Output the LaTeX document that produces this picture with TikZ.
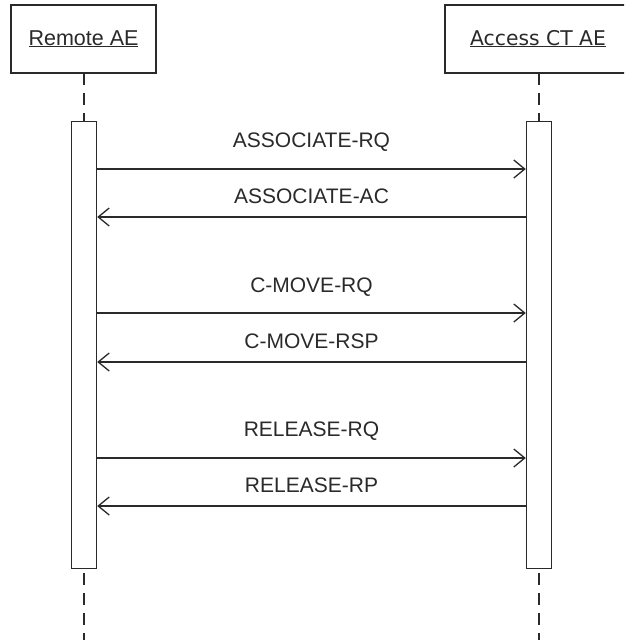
\documentclass[tikz,border=0pt]{standalone}
\usepackage{fontspec}
\setmainfont{Liberation Sans}
\newfontfamily\dvfont{DejaVu Sans}
\usetikzlibrary{arrows.meta}
\definecolor{ink}{HTML}{2A2A2A}
\begin{document}
\begin{tikzpicture}[x=1pt,y=-1pt,
  actor/.style={draw=ink,line width=1.6pt,fill=white,inner sep=0pt},
  lifeline/.style={draw=ink,line width=1.4pt,dash pattern=on 12pt off 8pt},
  actbar/.style={draw=ink,line width=1.4pt,fill=white},
  msg/.style={draw=ink,line width=1.3pt,-{Straight Barb[length=11pt,width=18pt,line width=1.3pt]}},
  lbl/.style={text=ink,font=\fontsize{21}{24}\selectfont,inner sep=0pt,anchor=base}]
\useasboundingbox (0,0) rectangle (624,640);
\clip (0,0) rectangle (624,640);
\fill[white] (0,0) rectangle (624,640);
% lifelines
\coordinate (la) at (84,73);
\coordinate (lb) at (84,640);
\coordinate (ra) at (539,73);
\coordinate (rb) at (539,640);
\draw[lifeline] (la) -- (lb);
\draw[lifeline] (ra) -- (rb);
% actors
\draw[actor] (11,5) rectangle (156,73);
\node[text=ink,font=\fontsize{21.5}{24}\selectfont,anchor=base] (remote) at (83.5,45) {\underline{Remote AE}};
\draw[actor] (445,5) rectangle (633,73);
\node[text=ink,font=\dvfont\fontsize{20.3}{24}\selectfont,anchor=base] (access) at (538,45) {\underline{Access CT AE}};
% activation bars
\node[actbar,minimum width=25pt,minimum height=447pt,inner sep=0pt,anchor=north] (barL) at (84,121) {};
\node[actbar,minimum width=25pt,minimum height=447pt,inner sep=0pt,anchor=north] (barR) at (539,121) {};
% messages
\foreach \y/\t/\d/\o in {169/ASSOCIATE-RQ/r/22, 217/ASSOCIATE-AC/l/14, 313/C-MOVE-RQ/r/21, 362/C-MOVE-RSP/l/14, 458/RELEASE-RQ/r/22, 506/RELEASE-RP/l/14}{
  \coordinate (pL) at (barL.east |- 0,\y);
  \coordinate (pR) at (barR.west |- 0,\y);
  \if r\d
    \draw[msg] (pL) -- (pR);
  \else
    \draw[msg] (pR) -- (pL);
  \fi
  \node[lbl] at (311.5,\y-\o) {\t};
}
\end{tikzpicture}
\end{document}
